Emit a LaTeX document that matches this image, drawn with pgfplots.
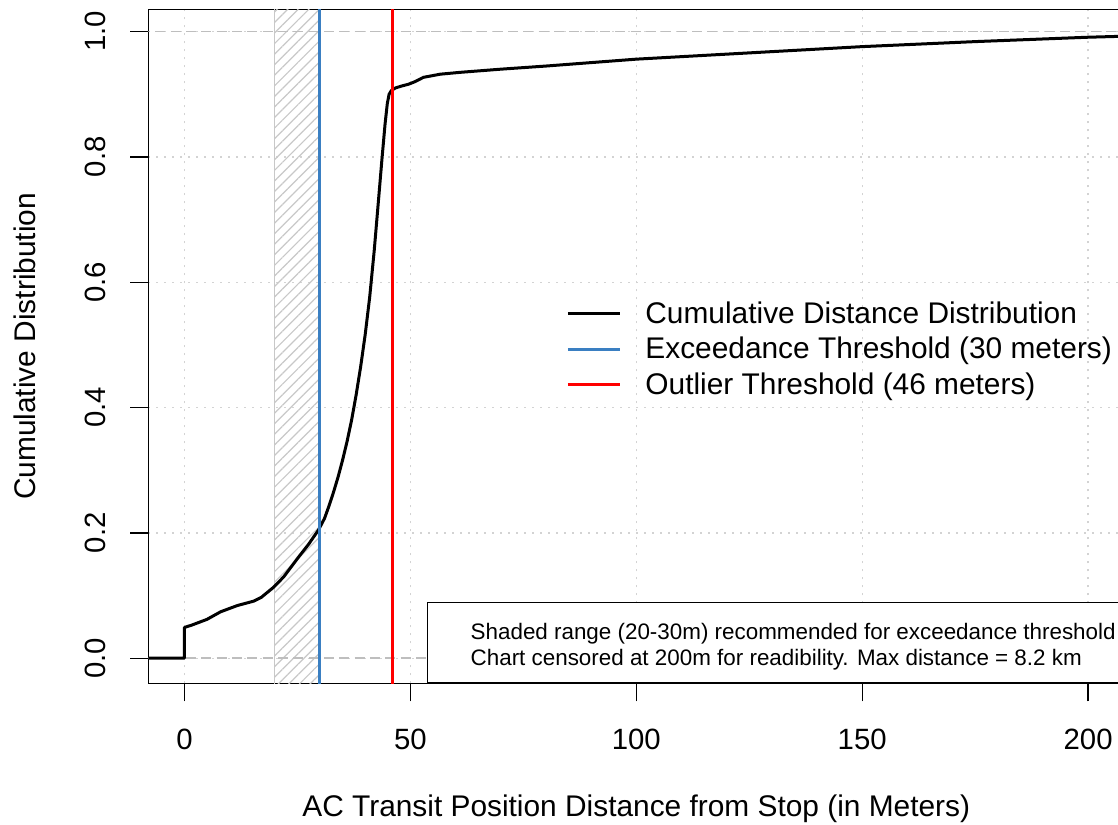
\documentclass[border=0pt]{standalone}
\usepackage{pgfplots}
\pgfplotsset{compat=1.18}
\usepackage{fontspec}
\setmainfont{Liberation Sans}
\usetikzlibrary{patterns.meta}
\definecolor{gridc}{HTML}{D3D3D3}
\definecolor{dashc}{HTML}{BEBEBE}
\definecolor{hatchc}{HTML}{C8C8C8}
\definecolor{blueline}{HTML}{3A7FC2}
\definecolor{redline}{HTML}{FF0000}
\begin{document}
\begin{tikzpicture}
\begin{axis}[
  at={(111.2pt,106.3pt)}, anchor=south west,
  scale only axis, width=732pt, height=505.2pt,
  xmin=-8, xmax=208, ymin=-0.04, ymax=1.035,
  axis line style={line width=1pt},
  xtick={0,50,100,150,200},
  ytick={0,0.2,0.4,0.6,0.8,1},
  yticklabels={0.0,0.2,0.4,0.6,0.8,1.0},
  tick align=outside, major tick length=13.5pt,
  tick style={line width=1pt, black},
  xtick pos=bottom, ytick pos=left,
  /pgf/number format/assume math mode=true,
  ticklabel style={font=\fontsize{22}{22}\selectfont},
  xticklabel style={anchor=center, yshift=-28.75pt},
  yticklabel style={xshift=-26.3pt, rotate=90, anchor=center},
  grid=major,
  major grid style={gridc, line width=1pt, dash pattern=on 1.5pt off 4.5pt},
  every axis x label/.style={at={(rel axis cs:0.5,0)}, anchor=center, yshift=-94.5pt, font=\fontsize{22.4}{22.4}\selectfont},
  every axis y label/.style={at={(rel axis cs:0,0.5)}, xshift=-92.5pt, rotate=90, anchor=center, font=\fontsize{22.4}{22.4}\selectfont},
  xlabel={AC Transit Position Distance from Stop (in Meters)},
  ylabel={Cumulative Distribution},
  legend style={draw=none, fill=none, at={(axis cs:83.6,0.578)}, anchor=north west,
    font=\fontsize{22.4}{22.4}\selectfont, row sep=5pt,
    /tikz/every odd column/.append style={column sep=16pt}},
  legend cell align=left,
  legend image code/.code={\draw[#1] (0pt,0pt) -- (39pt,0pt);},
]
% hatched recommended range
\addplot[forget plot, draw=hatchc, line width=1pt,
  pattern={Lines[angle=45,distance=5.6pt,line width=0.9pt]}, pattern color=hatchc]
  coordinates {(20,-1) (20,2) (30,2) (30,-1)} -- cycle;
% dashed reference lines at 0 and 1
\addplot[forget plot, dashc, line width=1.1pt, dash pattern=on 7.5pt off 4pt]
  coordinates {(-20,0) (220,0)};
\addplot[forget plot, dashc, line width=1.1pt, dash pattern=on 7.5pt off 4pt]
  coordinates {(-20,1) (220,1)};
% cumulative distribution
\addplot[black, line width=2.25pt, line join=round] coordinates {
(-20,0) (0,0) (0,0.049) (1.7,0.053) (5,0.062) (8,0.074) (11.7,0.084)
(15.3,0.091) (17,0.097) (19.7,0.113) (22,0.130) (24.9,0.158) (27.5,0.182)
(29.7,0.205) (31,0.223) (32,0.243) (33,0.265) (34,0.289) (35,0.316)
(36,0.346) (37,0.380) (38,0.420) (39,0.465) (40,0.516) (41,0.576)
(42,0.650) (43,0.735) (43.7,0.795) (44.4,0.852) (44.9,0.885) (45.3,0.900)
(45.8,0.906) (46.7,0.910) (48.0,0.913) (49.6,0.916)
(51,0.920) (52.9,0.927) (54.4,0.929) (56.6,0.932) (61.1,0.935) (70,0.940)
(80,0.945) (100,0.956) (125,0.966) (150,0.976) (175,0.984) (200,0.991) (210,0.993)
};
\addlegendentry{Cumulative Distance Distribution}
\addplot[blueline, line width=2.25pt] coordinates {(30,-1) (30,2)};
\addlegendentry{Exceedance Threshold (30 meters)}
\addplot[redline, line width=2.25pt] coordinates {(46,-1) (46,2)};
\addlegendentry{Outlier Threshold (46 meters)}
% annotation box
\node[draw, line width=1pt, fill=white, anchor=south east, minimum width=522pt,
  minimum height=60pt, inner sep=0pt] at (rel axis cs:1,0) {};
\node[anchor=base west, inner sep=0pt, font=\fontsize{16.8}{16.8}\selectfont]
  at (axis cs:63.3,0.0292) {Shaded range (20-30m) recommended for exceedance threshold};
\node[anchor=base west, inner sep=0pt, font=\fontsize{16.8}{16.8}\selectfont]
  at (axis cs:63.3,-0.0123) {Chart censored at 200m for readibility. Max distance = 8.2 km};
\end{axis}
\pgfresetboundingbox
\useasboundingbox (0,0) rectangle (838.5pt,618.75pt);
\end{tikzpicture}
\end{document}
